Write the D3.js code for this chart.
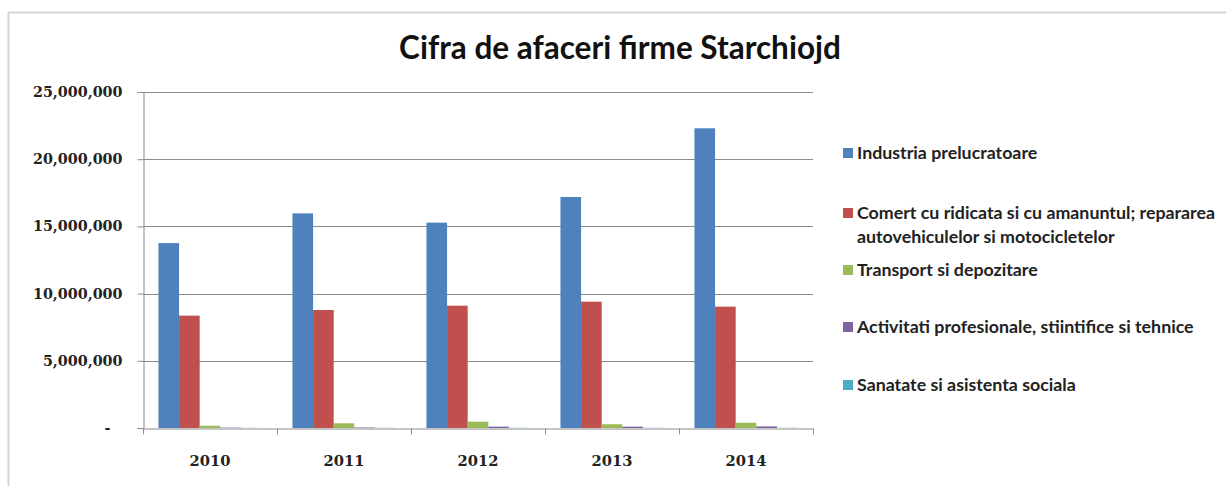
<!DOCTYPE html>
<html lang="ro">
<head>
<meta charset="utf-8">
<script src="https://cdn.jsdelivr.net/npm/d3@7"></script>
<style>
  body { margin: 0; background: #fff; }
  svg { display: block; }
</style>
</head>
<body>
<script>
// Data
const years = ["2010", "2011", "2012", "2013", "2014"];
const seriesNames = [
  "Industria prelucratoare",
  "Comert cu ridicata si cu amanuntul; repararea autovehiculelor si motocicletelor",
  "Transport si depozitare",
  "Activitati profesionale, stiintifice si tehnice",
  "Sanatate si asistenta sociala"
];
const industria = [13760000, 15970000, 15280000, 17190000, 22300000];
const comert    = [8360000, 8780000, 9100000, 9400000, 9030000];
const transport = [170000, 350000, 470000, 280000, 390000];
const activitati = [30000, 40000, 100000, 100000, 120000];
const sanatate  = [10000, 10000, 15000, 15000, 15000];
const yTicks = [0, 5000000, 10000000, 15000000, 20000000, 25000000];
const colors = ["#4F81BD", "#C0504D", "#9BBB59", "#8064A2", "#4BACC6"];

const values = [industria, comert, transport, activitati, sanatate];

const W = 1226, H = 486;
const margin = { left: 143, top: 92, right: W - 813, bottom: H - 428 };

const svg = d3.select("body").append("svg")
  .attr("width", W)
  .attr("height", H);

// chart frame
svg.append("rect")
  .attr("x", 8.5).attr("y", 12.5)
  .attr("width", 1240).attr("height", 490)
  .attr("fill", "#fff")
  .attr("stroke", "#d4d4d4")
  .attr("stroke-width", 2);

// title
svg.append("text")
  .attr("x", 620).attr("y", 59)
  .attr("text-anchor", "middle")
  .style("font-family", "Lato, 'Open Sans', sans-serif")
  .style("font-weight", "bold")
  .style("font-size", "31.5px")
  .attr("fill", "#111")
  .text("Cifra de afaceri firme Starchiojd");

const x0 = d3.scaleBand()
  .domain(years)
  .range([margin.left, W - margin.right])
  .paddingInner(0).paddingOuter(0);

const x1 = d3.scaleBand()
  .domain(d3.range(seriesNames.length))
  .range([0, x0.bandwidth()])
  .paddingInner(0).paddingOuter(0.75);

const y = d3.scaleLinear()
  .domain([0, 25000000])
  .range([H - margin.bottom, margin.top]);

// gridlines
svg.append("g")
  .selectAll("line")
  .data(yTicks.slice(1))
  .join("line")
  .attr("x1", margin.left).attr("x2", W - margin.right)
  .attr("y1", d => Math.round(y(d)) + 0.5)
  .attr("y2", d => Math.round(y(d)) + 0.5)
  .attr("stroke", "#8c8c8c");

// bars
const groups = svg.append("g")
  .selectAll("g")
  .data(years)
  .join("g")
  .attr("transform", d => "translate(" + x0(d) + ",0)");

groups.selectAll("rect")
  .data((d, i) => values.map((s, k) => ({ k: k, v: s[i] })))
  .join("rect")
  .attr("x", d => x1(d.k))
  .attr("width", x1.bandwidth())
  .attr("y", d => y(d.v))
  .attr("height", d => y(0) - y(d.v))
  .attr("fill", d => colors[d.k]);

// y axis
const yAxis = svg.append("g")
  .attr("transform", "translate(" + (margin.left + 0.5) + ",0)")
  .call(d3.axisLeft(y)
    .tickValues(yTicks)
    .tickSize(6)
    .tickPadding(15)
    .tickFormat(d => d === 0 ? "-" : d3.format(",")(d)));
yAxis.select(".domain").attr("stroke", "#8c8c8c");
yAxis.selectAll(".tick line").attr("stroke", "#8c8c8c");
yAxis.selectAll(".tick text")
  .attr("fill", "#222")
  .style("font-family", "'DejaVu Serif', serif")
  .style("font-weight", "bold")
  .style("font-size", "14.3px")
  .attr("dx", d => d === 0 ? -12 : 0);

// x axis
const xAxis = svg.append("g")
  .attr("transform", "translate(0," + (y(0) + 0.5) + ")")
  .call(d3.axisBottom(x0).tickSize(0).tickPadding(27));
xAxis.select(".domain").attr("stroke", "#8c8c8c");
xAxis.selectAll(".tick text")
  .attr("fill", "#222")
  .style("font-family", "'DejaVu Serif', serif")
  .style("font-weight", "bold")
  .style("font-size", "14.7px");
xAxis.selectAll(".boundary")
  .data(years.map(d => x0(d)).concat([x0.range()[1]]))
  .join("line")
  .attr("class", "boundary")
  .attr("x1", d => Math.round(d) + 0.5).attr("x2", d => Math.round(d) + 0.5)
  .attr("y1", 0).attr("y2", 6)
  .attr("stroke", "#8c8c8c");

// legend
const legendRows = [[153], [213, 237], [270], [327], [385]];
const legend = svg.append("g")
  .selectAll("g")
  .data(seriesNames)
  .join("g");

legend.append("rect")
  .attr("x", 843)
  .attr("y", (d, i) => legendRows[i][0] - 5)
  .attr("width", 10).attr("height", 10)
  .attr("fill", (d, i) => colors[i]);

legend.each(function (d, i) {
  const lines = i === 1
    ? ["Comert cu ridicata si cu amanuntul; repararea", "autovehiculelor si motocicletelor"]
    : [d];
  const t = d3.select(this).append("text")
    .style("font-family", "Lato, 'Open Sans', sans-serif")
    .style("font-weight", "bold")
    .style("font-size", "17.8px")
    .attr("fill", "#222");
  lines.forEach((ln, j) => {
    t.append("tspan")
      .attr("x", 857)
      .attr("y", legendRows[i][j])
      .attr("dy", "0.35em")
      .text(ln);
  });
});
</script>
</body>
</html>
